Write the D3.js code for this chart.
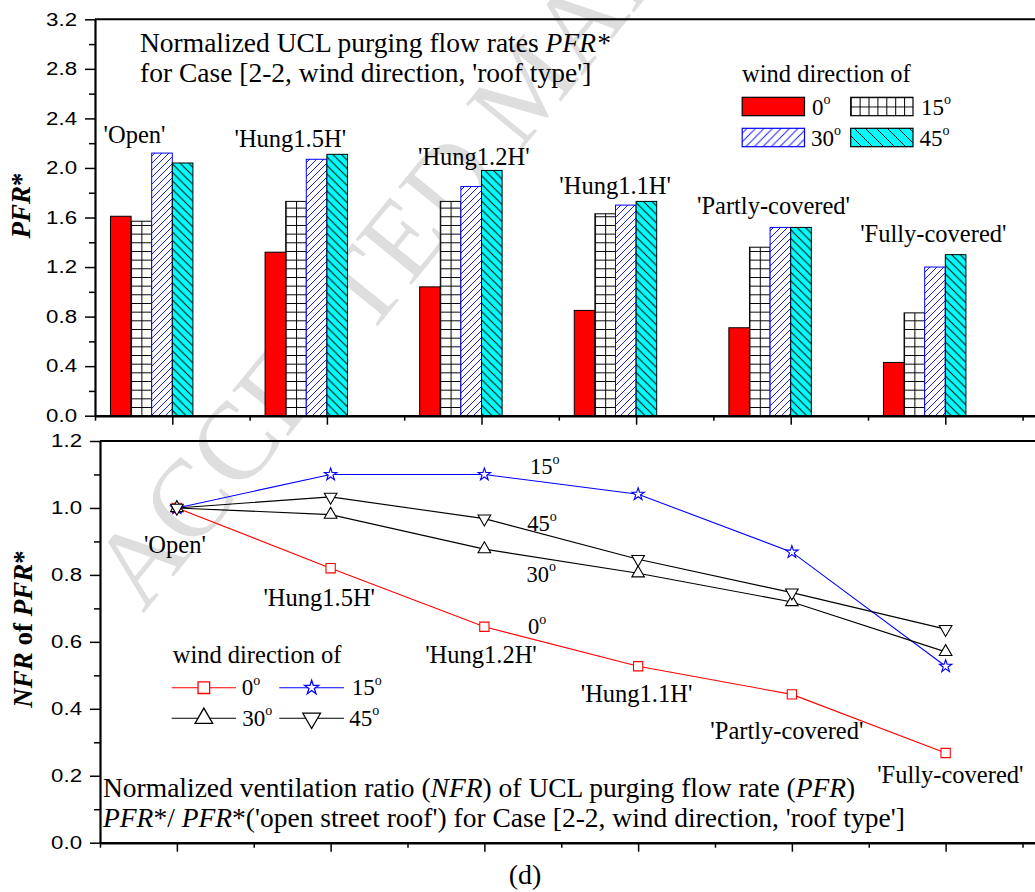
<!DOCTYPE html>
<html><head><meta charset="utf-8">
<script src="https://cdn.jsdelivr.net/npm/d3@7"></script>
<style>body{margin:0;background:#fff;} svg{display:block;} .serif{font-family:"Liberation Serif","DejaVu Serif",serif;} .sans{font-family:"Liberation Sans",Arial,sans-serif;}</style>
</head><body>
<svg id="chart" width="1035" height="892"></svg>
<script>
// ---------------- data ----------------
const categories = ["'Open'", "'Hung1.5H'", "'Hung1.2H'", "'Hung1.1H'", "'Partly-covered'", "'Fully-covered'"];
const windDirections = ["0", "15", "30", "45"];
// PFR* (top bar chart)
const pfr0  = [1.61, 1.32, 1.04, 0.85, 0.71, 0.43];
const pfr15 = [1.57, 1.73, 1.73, 1.63, 1.36, 0.83];
const pfr30 = [2.12, 2.07, 1.85, 1.70, 1.52, 1.20];
const pfr45 = [2.04, 2.11, 1.98, 1.73, 1.52, 1.30];
// NFR of PFR* (bottom line chart)
const nfr0  = [1.00, 0.82, 0.645, 0.527, 0.443, 0.268];
const nfr15 = [1.00, 1.10, 1.10, 1.041, 0.868, 0.527];
const nfr30 = [1.00, 0.98, 0.877, 0.805, 0.719, 0.570];
const nfr45 = [1.00, 1.033, 0.968, 0.847, 0.747, 0.638];
// tick labels
const pfrTicks = [0.0, 0.4, 0.8, 1.2, 1.6, 2.0, 2.4, 2.8, 3.2];
const pfrMinor = [0.2, 0.6, 1.0, 1.4, 1.8, 2.2, 2.6, 3.0];
const nfrTicks = [0.0, 0.2, 0.4, 0.6, 0.8, 1.0, 1.2];
const nfrMinor = [0.1, 0.3, 0.5, 0.7, 0.9, 1.1];
const catMajor = [1, 2, 3, 4, 5, 6, 7];
const catMinor = [0.5, 1.5, 2.5, 3.5, 4.5, 5.5, 6.5];

// ---------------- setup ----------------
const svg = d3.select("#chart");
const defs = svg.append("defs");

const xTop = d3.scaleLinear().domain([0.5, 7]).range([95, 95 + 6.5 * 154.6]);
const yTop = d3.scaleLinear().domain([0, 3.2]).range([415.7, 19.3]);
const xBot = d3.scaleLinear().domain([0.5, 7]).range([100, 100 + 6.5 * 153.75]);
const yBot = d3.scaleLinear().domain([0, 1.2]).range([842.7, 441]);

// watermark
svg.append("text").attr("class", "serif")
  .attr("transform", "translate(143,614) rotate(-50.8)")
  .attr("font-size", 110).attr("fill", "#dedede")
  .text("ACCEPTED MANUSCRIPT");

// ---------------- patterns ----------------
function hatch(id, s, dir, color, bg) {
  const p = defs.append("pattern").attr("id", id).attr("patternUnits", "userSpaceOnUse")
    .attr("width", s).attr("height", s);
  p.append("rect").attr("width", s).attr("height", s).attr("fill", bg);
  const d = dir === "/"
    ? `M-1,1 l2,-2 M0,${s} l${s},${-s} M${s - 1},${s + 1} l2,-2`
    : `M-1,${s - 1} l2,2 M0,0 l${s},${s} M${s - 1},-1 l2,2`;
  p.append("path").attr("d", d).attr("stroke", color).attr("stroke-width", 1).attr("fill", "none");
}
hatch("h30", 7, "/", "#1a1aff", "#fff");
hatch("h45", 8.5, "\\", "#000", "#00ffff");
hatch("h30L", 8.5, "/", "#1a1aff", "#fff");
hatch("h45L", 11, "\\", "#000", "#00ffff");
function gridPattern(id, x, y, cw, ch) {
  const p = defs.append("pattern").attr("id", id).attr("patternUnits", "userSpaceOnUse")
    .attr("x", x).attr("y", y).attr("width", cw).attr("height", ch);
  p.append("rect").attr("width", cw).attr("height", ch).attr("fill", "#fff");
  p.append("path").attr("d", `M0.5,0 V${ch} M0,0.5 H${cw}`).attr("stroke", "#000").attr("stroke-width", 1);
}

// ---------------- top panel ----------------
const seriesPFR = [pfr0, pfr15, pfr30, pfr45];
const barW = xTop(1 + 2 / 15) - xTop(1);
const band = d3.scaleBand().domain(windDirections).range([-3 * barW, barW]).padding(0);
const barStroke = ["#000", "#000", "#0000ff", "#000"];

const gBars = svg.append("g");
const barData = [];
categories.forEach((c, ci) => windDirections.forEach((w, si) => {
  barData.push({ci, si, w, v: seriesPFR[si][ci]});
}));
barData.forEach(d => {
  if (d.si === 1) {
    gridPattern(`grid${d.ci}`, xTop(d.ci + 1) + band(d.w), yTop(0), barW / 2, 8.67);
  }
});
gBars.selectAll("rect").data(barData).join("rect")
  .attr("x", d => xTop(d.ci + 1) + band(d.w))
  .attr("y", d => yTop(d.v))
  .attr("width", band.bandwidth())
  .attr("height", d => yTop(0) - yTop(d.v))
  .attr("fill", d => d.si === 0 ? "#ff0000" : d.si === 1 ? `url(#grid${d.ci})` : d.si === 2 ? "url(#h30)" : "url(#h45)")
  .attr("stroke", d => barStroke[d.si]).attr("stroke-width", 1);

function axesFor(xs, ys, yMaj, yMin, fmtRight) {
  const g = svg.append("g");
  const x0 = xs(0.5);
  g.append("g").attr("transform", `translate(${x0},0)`)
    .call(d3.axisLeft(ys).tickValues(yMin).tickSize(6).tickSizeOuter(0).tickFormat(""))
    .call(s => s.select(".domain").remove())
    .call(s => s.selectAll(".tick line").attr("stroke-width", 1.5));
  g.append("g").attr("transform", `translate(${x0},0)`)
    .call(d3.axisLeft(ys).tickValues(yMaj).tickSize(10).tickSizeOuter(0).tickFormat(""))
    .call(s => s.select(".domain").attr("stroke-width", 2.2))
    .call(s => s.selectAll(".tick line").attr("stroke-width", 1.5));
  g.append("g").attr("transform", `translate(0,${ys(0)})`)
    .call(d3.axisBottom(xs).tickValues(catMinor).tickSize(5).tickSizeOuter(0).tickFormat(""))
    .call(s => s.select(".domain").remove())
    .call(s => s.selectAll(".tick line").attr("stroke-width", 1.5));
  g.append("g").attr("transform", `translate(0,${ys(0)})`)
    .call(d3.axisBottom(xs).tickValues(catMajor).tickSize(9).tickSizeOuter(0).tickFormat(""))
    .call(s => s.select(".domain").attr("stroke-width", 2.5))
    .call(s => s.selectAll(".tick line").attr("stroke-width", 1.5));
  g.append("line").attr("x1", x0).attr("x2", xs(7)).attr("y1", ys(ys.domain()[1])).attr("y2", ys(ys.domain()[1]))
    .attr("stroke", "#000").attr("stroke-width", 2);
  g.selectAll(".ylab").data(yMaj).join("text").attr("class", "ylab sans")
    .attr("transform", d => `translate(${fmtRight},${ys(d)}) scale(1.27,1)`)
    .attr("text-anchor", "end").attr("dy", "0.36em")
    .attr("font-size", 17.5).attr("fill", "#000")
    .text(d => d3.format(".1f")(d));
}
axesFor(xTop, yTop, pfrTicks, pfrMinor, 77);
axesFor(xBot, yBot, nfrTicks, nfrMinor, 82);

// helper for rich text
function rich(x, y, size, parts) {
  const t = svg.append("text").attr("class", "serif").attr("x", x).attr("y", y)
    .attr("font-size", size).attr("fill", "#000");
  parts.forEach(p => {
    const ts = t.append("tspan").text(p[0]);
    if (p[1] === "i") ts.attr("font-style", "italic");
    if (p[1] === "sup") ts.attr("font-size", 14).attr("dy", -10.5);
  });
  return t;
}
function degText(x, y, num, size) {
  return rich(x, y, size, [[num], ["o", "sup"]]);
}

// top annotation
rich(140, 52, 27.5, [["Normalized UCL purging flow rates "], ["PFR*", "i"]]);
rich(140, 82, 27.5, [["for Case [2-2, wind direction, 'roof type']"]]);

// top category labels (offsets from category centre, baseline in PFR units)
const topLabelDx = [-37.8, -36.6, -7.7, -21, -17.2, -12];
const topLabelY = [2.20, 2.17, 2.02, 1.79, 1.63, 1.40];
categories.forEach((c, i) => {
  svg.append("text").attr("class", "serif").attr("x", xTop(i + 1) + topLabelDx[i]).attr("y", yTop(topLabelY[i]))
    .attr("text-anchor", "middle").attr("font-size", 24.5).text(c);
});

// top legend
rich(742, 81.7, 24.5, [["wind direction of"]]);
const legTop = [
  {x: 742.2, y: 97.3, fill: "#ff0000", stroke: "#000", tx: 812, ty: 114.5},
  {x: 850.7, y: 97.3, fill: "url(#gridL)", stroke: "#000", tx: 921, ty: 114.5},
  {x: 742.2, y: 128.3, fill: "url(#h30L)", stroke: "#0000ff", tx: 811, ty: 145.7},
  {x: 850.7, y: 128.3, fill: "url(#h45L)", stroke: "#000", tx: 919.5, ty: 145.7}
];
gridPattern("gridL", 850.7, 97.3, 8.9, 9.2);
legTop.forEach((l, i) => {
  svg.append("rect").attr("x", l.x).attr("y", l.y).attr("width", 62.3).attr("height", 18.4)
    .attr("fill", l.fill).attr("stroke", l.stroke).attr("stroke-width", 1.2);
  degText(l.tx, l.ty, windDirections[i], 23);
});

// axis titles
const yTitle1 = svg.append("text").attr("class", "serif").attr("transform", "translate(30,205.5) rotate(-90)")
  .attr("text-anchor", "middle").attr("font-size", 27).attr("font-weight", "bold");
yTitle1.append("tspan").attr("font-style", "italic").text("PFR");
yTitle1.append("tspan").text("*");
const yTitle2 = svg.append("text").attr("class", "serif").attr("transform", "translate(32,629) rotate(-90)")
  .attr("text-anchor", "middle").attr("font-size", 27).attr("font-weight", "bold");
yTitle2.append("tspan").attr("font-style", "italic").text("NFR");
yTitle2.append("tspan").text(" of ");
yTitle2.append("tspan").attr("font-style", "italic").text("PFR");
yTitle2.append("tspan").text("*");

// ---------------- bottom panel ----------------
const seriesNFR = [nfr0, nfr15, nfr30, nfr45];
const lineColor = ["#ff0000", "#0000ff", "#000", "#000"];
const symType = [d3.symbolSquare, d3.symbolStar, d3.symbolTriangle, d3.symbolTriangle];
const symSize = [86, 48, 69, 69];
const symRot = [0, 0, 0, 180];
const line = d3.line().x((d, i) => xBot(i + 1)).y(d => yBot(d));
const gLines = svg.append("g");
seriesNFR.forEach((s, si) => {
  gLines.append("path").attr("d", line(s)).attr("fill", "none")
    .attr("stroke", lineColor[si]).attr("stroke-width", 1.1);
});
seriesNFR.forEach((s, si) => {
  gLines.selectAll(null).data(s).join("path")
    .attr("transform", (d, i) => `translate(${xBot(i + 1)},${yBot(d)}) rotate(${symRot[si]})`)
    .attr("d", d3.symbol(symType[si], symSize[si]))
    .attr("fill", "#fff").attr("stroke", lineColor[si]).attr("stroke-width", 1.1);
});

// bottom category labels
const botLabelDx = [-2, -11.4, -3.4, -1.6, -5, 4.7];
const botLabelY = [0.866, 0.707, 0.537, 0.421, 0.310, 0.179];
categories.forEach((c, i) => {
  svg.append("text").attr("class", "serif").attr("x", xBot(i + 1) + botLabelDx[i]).attr("y", yBot(botLabelY[i]))
    .attr("text-anchor", "middle").attr("font-size", 24.5).text(c);
});

// series labels in the plot
const serLabelY = [0.6225, 1.101, 0.78, 0.931];
const serLabelDx = [-33.3, -31.3, -34.7, -34];
windDirections.forEach((w, i) => {
  degText(xBot(3.5) + serLabelDx[i], yBot(serLabelY[i]), w, 22.5);
});

// bottom legend
rich(172.7, 662.5, 24.5, [["wind direction of"]]);
const legBot = [
  {x1: 171.7, x2: 236, y: 687.7, tx: 241.7},
  {x1: 279.3, x2: 344, y: 687.7, tx: 351.7},
  {x1: 171.7, x2: 236, y: 718.3, tx: 242.3},
  {x1: 279.3, x2: 344, y: 718.3, tx: 349.3}
];
const legSymSize = [135, 62, 135, 135];
legBot.forEach((l, i) => {
  svg.append("line").attr("x1", l.x1).attr("x2", l.x2).attr("y1", l.y).attr("y2", l.y)
    .attr("stroke", lineColor[i]).attr("stroke-width", 1.1);
  svg.append("path").attr("transform", `translate(${(l.x1 + l.x2) / 2},${l.y}) rotate(${symRot[i]})`)
    .attr("d", d3.symbol(symType[i], legSymSize[i]))
    .attr("fill", "#fff").attr("stroke", lineColor[i]).attr("stroke-width", 1.3);
  degText(l.tx, l.y + 7.5, windDirections[i], 23);
});

// bottom annotation
rich(103, 797, 27.5, [["Normalized ventilation ratio ("], ["NFR", "i"], [") of UCL purging flow rate ("], ["PFR", "i"], [")"]]);
rich(103, 827, 27.5, [["PFR", "i"], ["*/ "], ["PFR", "i"], ["*('open street roof') for Case [2-2, wind direction, 'roof type']"]]);

// panel caption
svg.append("text").attr("class", "serif").attr("x", 525).attr("y", 884).attr("text-anchor", "middle")
  .attr("font-size", 28).text("(d)");
</script>
</body></html>
